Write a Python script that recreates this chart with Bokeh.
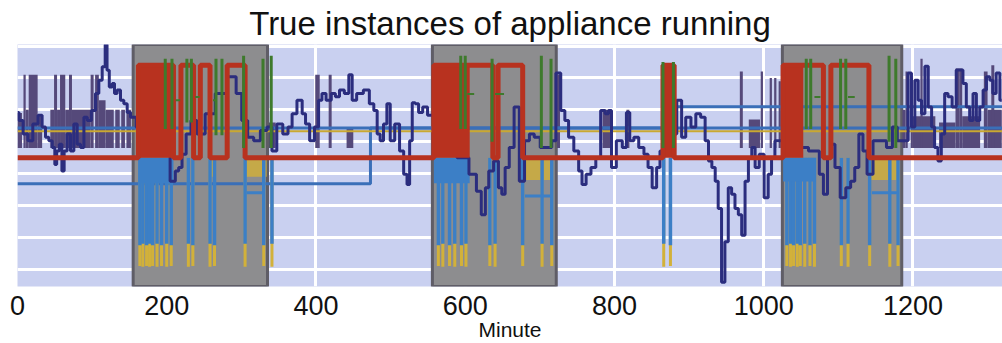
from bokeh.plotting import figure
from bokeh.models import FixedTicker, Range1d
from bokeh.embed import file_html
from bokeh.resources import INLINE

# ---------------- data (minutes on x, signal level on y) ----------------
tick_minutes = [0, 200, 400, 600, 800, 1000, 1200]
grid_levels = [0, 10, 20, 30, 40, 50, 60, 70]

# shaded "appliance running" periods
run_start = [155, 556, 1025]
run_end = [335, 722, 1185]

# aggregate power (dark navy)
navy_t = [0, 4, 11, 17, 24, 31, 35, 40, 44, 49, 51, 54, 58, 61, 64, 69, 73, 78, 82, 87, 91, 96,
          102, 107, 111, 116, 119, 121, 125, 129, 131, 136, 140, 145, 149, 154, 156, 162, 178,
          200, 209, 214, 218, 223, 229, 236, 245, 258, 272, 290, 296, 305, 312, 321, 330, 339,
          343, 352, 359, 366, 370, 379, 384, 388, 395, 401, 406, 410, 417, 424, 428, 435, 441,
          447, 450, 459, 468, 475, 480, 484, 488, 493, 497, 502, 509, 515, 520, 524, 527, 531,
          535, 540, 546, 553, 562, 580, 598, 612, 618, 625, 629, 634, 642, 647, 651, 656, 662,
          669, 676, 683, 689, 696, 705, 714, 718, 725, 731, 736, 741, 750, 754, 759, 765, 772,
          778, 785, 790, 794, 798, 807, 814, 818, 823, 829, 836, 843, 847, 854, 859, 863, 870,
          879, 888, 892, 899, 906, 912, 919, 924, 928, 933, 937, 941, 946, 950, 955, 959, 964,
          968, 973, 977, 982, 986, 991, 997, 1004, 1008, 1013, 1017, 1022, 1031, 1049, 1071,
          1078, 1082, 1089, 1093, 1098, 1107, 1113, 1120, 1124, 1131, 1135, 1142, 1151, 1160,
          1169, 1176, 1182, 1191, 1196, 1200, 1205, 1209, 1214, 1218, 1223, 1227, 1231, 1236,
          1240, 1245, 1249, 1256, 1260, 1265, 1269, 1274, 1278, 1283, 1287, 1292, 1296, 1301,
          1305, 1309, 1314, 1319]
navy_v = [49.2, 46.7, 42.4, 40.3, 45.6, 48.3, 44.6, 41.4, 40.3, 38.2, 32.9, 37.1, 39.2, 30.8,
          37.1, 42.4, 37.1, 45.6, 39.2, 38.2, 47.7, 46.7, 49.8, 55.1, 59.3, 63.5, 70.5, 62.4,
          57.2, 58.3, 55.1, 56.2, 53.0, 51.9, 49.2, 47.7, 47.7, 44.6, 40.3, 37.1, 27.6, 30.8,
          31.9, 36.1, 42.4, 46.7, 42.4, 48.8, 55.1, 60.4, 55.1, 46.7, 41.4, 40.3, 43.5, 44.6,
          37.1, 45.6, 42.4, 44.6, 48.8, 53.0, 48.8, 45.6, 40.3, 44.6, 53.0, 55.1, 53.0, 55.1,
          54.1, 56.2, 55.1, 61.0, 53.0, 55.1, 56.2, 51.9, 49.8, 42.4, 40.3, 45.6, 51.9, 40.3,
          45.6, 37.1, 29.8, 26.6, 40.3, 52.2, 51.9, 49.2, 50.9, 48.3, 42.4, 37.1, 35.0, 29.8,
          24.5, 17.1, 25.6, 30.8, 34.0, 25.6, 23.5, 31.9, 38.2, 50.9, 27.6, 40.3, 42.4, 41.4,
          38.2, 38.2, 40.3, 61.6, 49.8, 46.7, 41.4, 37.1, 30.8, 26.6, 29.8, 31.9, 35.0, 49.8,
          48.8, 49.8, 31.9, 40.3, 38.2, 49.2, 40.3, 41.4, 38.2, 36.1, 31.9, 25.6, 31.9, 37.1,
          40.3, 42.4, 53.0, 41.4, 47.7, 44.6, 48.8, 47.7, 40.3, 34.0, 31.9, 27.6, 19.1, -4.1,
          8.6, 25.6, 23.5, 19.1, 17.1, 10.7, 27.6, 35.0, 38.2, 31.9, 36.1, 22.4, 29.8, 35.0,
          40.3, 40.3, 37.1, 38.2, 37.1, 29.8, 23.5, 35.0, 39.2, 31.9, 22.4, 25.6, 27.6, 31.9,
          42.4, 37.1, 29.8, 40.3, 40.3, 38.2, 44.6, 40.3, 40.3, 61.6, 44.6, 59.3, 53.0, 48.8,
          63.7, 50.9, 44.6, 38.2, 34.0, 42.4, 55.1, 54.1, 50.9, 62.5, 62.5, 58.3, 50.9, 46.7,
          55.1, 46.7, 50.9, 56.2, 60.4, 59.3, 55.1, 61.6, 53.0]

# on/off pulses of a second load (grey-purple), bottom at 38
pulse_start = [0, 8, 11, 15, 27, 44, 49, 53, 57, 64, 69, 73, 98, 104, 109, 118, 131, 139, 146,
               337, 399, 417, 441, 723, 784, 816, 968, 980, 996, 1008, 1014, 1020,
               1186, 1190, 1197, 1200, 1210, 1235, 1257, 1262, 1266, 1295, 1300, 1305]
pulse_end = [6, 11, 15, 27, 33, 49, 53, 57, 64, 69, 73, 98, 102, 109, 118, 129, 137, 144, 152,
             346, 405, 421, 450, 727, 796, 820, 972, 995, 999, 1011, 1017, 1023,
             1190, 1193, 1200, 1230, 1213, 1257, 1262, 1266, 1290, 1300, 1319, 1309]
pulse_top = [49, 61, 50, 61, 48, 50, 61, 50, 61, 50, 61, 50, 61, 61, 53, 50, 50, 50, 50,
             46, 61, 61, 44, 61, 50, 50, 62, 47, 62, 60, 60, 59,
             50, 62, 60, 48, 66, 46, 63, 63, 48, 62, 50, 64]

# appliance state (red): step signal
red_t = [0, 162, 209, 219, 236, 245, 258, 281, 305, 558, 637, 644, 677, 865, 880, 1026, 1080,
         1090, 1141, 1320]
red_v = [35, 64, 35, 64, 35, 64, 35, 64, 35, 64, 35, 64, 35, 64, 35, 64, 35, 64, 35, 35]
red_block_start = [162, 558, 865, 1026]
red_block_end = [209, 606, 880, 1053]

# green sub-meter spikes
green_t = [198, 207, 227, 233, 266, 274, 303, 329, 340, 594, 600, 636, 702, 715, 865, 879,
           1057, 1063, 1103, 1110, 1168, 1177]
green_top = [66, 66, 66, 66, 66, 66, 67, 66, 67, 67, 67, 66, 67, 66, 65, 65,
             66, 66, 66, 66, 67, 66]
green_bottom = [44, 44, 46, 46, 42, 42, 38, 38, 38, 44, 44, 40, 38, 38, 38, 38,
                44, 44, 44, 44, 40, 38]
green_seg_start = [212, 238, 262, 603, 640, 1068, 1113]
green_seg_end = [218, 244, 266, 612, 652, 1076, 1122]
green_seg_level = [53, 54, 53, 55, 55, 54, 54]

# level lines (blue / yellow)
blue_level_t = [0, 1320]
blue_level_v = [44.3, 44.3]
blue2_t = [0, 473, 881, 1320]
blue2_v = [26.8, 44.3, 51.0, 51.0]
yellow_level_t = [0, 1320]
yellow_level_v = [43.3, 43.3]

# downward spikes (yellow to ~0.8, blue to ~7.5)
spike_t = [164, 168, 173, 177, 181, 187, 193, 200, 206, 229, 235, 258, 264, 305, 330, 341,
           564, 570, 579, 586, 595, 601, 633, 640, 677, 703, 716, 866, 875,
           1031, 1036, 1040, 1045, 1049, 1055, 1062, 1068, 1104, 1113, 1142, 1169, 1180]
yellow_low = [1.0, 0.8, 1.0, 0.8, 1.0, 0.8, 1.0, 0.8, 1.0, 0.8, 1.0, 0.8, 1.0, 0.8, 1.0, 0.8,
              1.0, 0.8, 1.0, 0.8, 1.0, 0.8, 1.0, 0.8, 1.0, 0.8, 1.0, 0.8, 1.0,
              1.0, 0.8, 1.0, 0.8, 1.0, 0.8, 1.0, 0.8, 1.0, 0.8, 1.0, 0.8, 1.0]
blue_low = [7.5, 8.0, 7.5, 8.0, 7.5, 8.0, 7.5, 8.0, 7.5, 8.0, 7.5, 8.0, 7.5, 8.0, 7.5, 8.0,
            7.5, 8.0, 7.5, 8.0, 7.5, 8.0, 7.5, 8.0, 7.5, 8.0, 7.5, 8.0, 7.5,
            7.5, 8.0, 7.5, 8.0, 7.5, 8.0, 7.5, 8.0, 7.5, 8.0, 7.5, 8.0, 7.5]
# shelves just below the baseline inside running periods
yshelf_start = [258, 307, 677, 1142]
yshelf_end = [266, 334, 716, 1182]
yshelf_low = [29, 29, 28, 28]
bshelf_start = [162, 558, 1026]
bshelf_end = [209, 606, 1070]
bshelf_low = [27, 27, 27.5]
bline_start = [307, 680, 1145]
bline_end = [330, 714, 1180]
bline_level = [24, 23, 24]

# ---------------- figure ----------------
p = figure(width=1002, height=343, output_backend="svg", toolbar_location=None,
           x_range=Range1d(0, 1320), y_range=Range1d(-5.4, 70.5),
           min_border_left=17, min_border_right=0, min_border_top=0, min_border_bottom=0,
           title="True instances of appliance running")
p.title.text_font = "Liberation Sans"
p.title.text_font_size = "33px"
p.title.text_font_style = "normal"
p.title.text_color = "#111111"
p.title.align = "center"
p.title.offset = 8
p.title.standoff = 5
p.outline_line_color = None
p.background_fill_color = "#c9d0f0"
p.border_fill_color = "white"

p.yaxis.visible = False
p.xaxis.ticker = FixedTicker(ticks=tick_minutes)
p.xaxis.axis_line_color = None
p.xaxis.major_tick_line_color = None
p.xaxis.minor_tick_line_color = None
p.xaxis.major_label_text_font = "Liberation Sans"
p.xaxis.major_label_text_font_size = "27px"
p.xaxis.major_label_text_color = "#111111"
p.xaxis.major_label_standoff = 3
p.xaxis.axis_label = "Minute"
p.xaxis.axis_label_text_font = "Liberation Sans"
p.xaxis.axis_label_text_font_size = "21px"
p.xaxis.axis_label_text_font_style = "normal"
p.xaxis.axis_label_text_color = "#111111"
p.xaxis.axis_label_standoff = 0

p.xgrid.ticker = FixedTicker(ticks=tick_minutes)
p.ygrid.ticker = FixedTicker(ticks=grid_levels)
p.xgrid.grid_line_color = "white"
p.ygrid.grid_line_color = "white"
p.xgrid.grid_line_width = 3
p.ygrid.grid_line_width = 3

# running periods
p.quad(left=run_start, right=run_end, bottom=-5.4, top=70.5,
       fill_color="#8d8d8f", line_color="#5f5d66", line_width=3)

# grey-purple pulses
p.quad(left=pulse_start, right=pulse_end, bottom=38, top=pulse_top,
       fill_color="#55497a", line_color=None)

# level lines
p.step(blue2_t, blue2_v, mode="after", line_color="#3a6fb8", line_width=3)
p.line(blue_level_t, blue_level_v, line_color="#3a6fb8", line_width=3)
p.line(yellow_level_t, yellow_level_v, line_color="#c9a832", line_width=2)

# downward spikes
p.segment(x0=spike_t, y0=35, x1=spike_t, y1=yellow_low, line_color="#d2b13a", line_width=3)
p.quad(left=yshelf_start, right=yshelf_end, bottom=yshelf_low, top=35,
       fill_color="#cfae3c", line_color=None, fill_alpha=0.85)
p.segment(x0=spike_t, y0=35, x1=spike_t, y1=blue_low, line_color="#3c7fc6", line_width=3.5)
p.quad(left=bshelf_start, right=bshelf_end, bottom=bshelf_low, top=35,
       fill_color="#3c7fc6", line_color=None)
p.segment(x0=bline_start, y0=bline_level, x1=bline_end, y1=bline_level,
          line_color="#3c7fc6", line_width=3)

# aggregate power
p.step(navy_t, navy_v, mode="center", line_color="#2b2d7e", line_width=3)

# appliance state
p.quad(left=red_block_start, right=red_block_end, bottom=35, top=64,
       fill_color="#b8321f", line_color=None)
p.step(red_t, red_v, mode="after", line_color="#b8321f", line_width=5)

# green
p.segment(x0=green_t, y0=green_bottom, x1=green_t, y1=green_top,
          line_color="#3e7a2c", line_width=3)
p.segment(x0=green_seg_start, y0=green_seg_level, x1=green_seg_end, y1=green_seg_level,
          line_color="#3e7a2c", line_width=2)

open("out.html", "w").write(file_html(p, INLINE))
